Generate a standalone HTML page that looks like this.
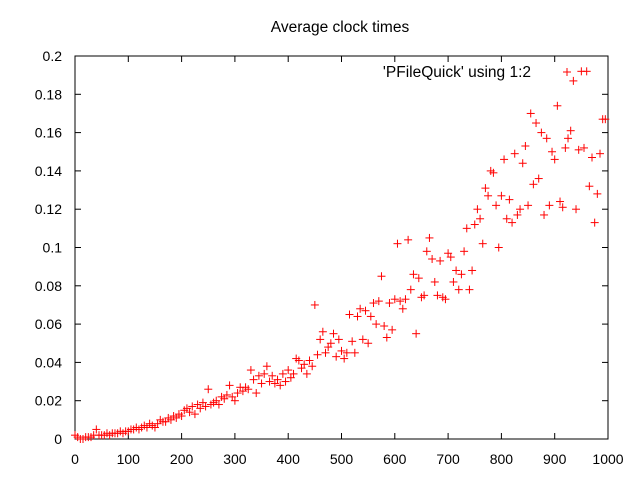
<!DOCTYPE html>
<html><head><meta charset="utf-8"><style>
body{margin:0;background:#fff}
svg{display:block;font-family:"Liberation Sans",sans-serif}
</style></head><body>
<svg id="chart" width="640" height="480" viewBox="0 0 640 480" xmlns="http://www.w3.org/2000/svg">
<rect width="640" height="480" fill="#fff"/>
<text x="340" y="32" font-size="15.5" text-anchor="middle">Average clock times</text>
<g id="axes"></g>
<g id="marks"></g>
<text x="531" y="77" font-size="15.5" text-anchor="end">'PFileQuick' using 1:2</text>
<g stroke="#ff0000" stroke-width="1"><line x1="563" y1="72" x2="571" y2="72"/><line x1="567" y1="68" x2="567" y2="76"/></g>
</svg>
<script>
const xTicks=[0,100,200,300,400,500,600,700,800,900,1000];
const yTicks=[0,0.02,0.04,0.06,0.08,0.1,0.12,0.14,0.16,0.18,0.2];
const yTickLabels=["0","0.02","0.04","0.06","0.08","0.1","0.12","0.14","0.16","0.18","0.2"];
const xStart=0, xStep=5;
const yValues=[
0.002,0.001,0,0,0.001,0.001,0.001,0.002,0.005,0.002,0.002,0.002,0.003,0.002,0.003,0.003,0.003,0.004,0.003,0.004,
0.004,0.005,0.005,0.006,0.005,0.006,0.007,0.006,0.008,0.007,0.006,0.008,0.010,0.009,0.009,0.011,0.010,0.012,0.011,0.013,
0.012,0.015,0.016,0.014,0.017,0.013,0.018,0.016,0.019,0.017,0.026,0.018,0.019,0.020,0.018,0.022,0.021,0.023,0.028,0.022,
0.020,0.024,0.027,0.025,0.027,0.026,0.036,0.031,0.024,0.033,0.029,0.034,0.038,0.030,0.033,0.029,0.031,0.028,0.034,0.030,
0.036,0.032,0.034,0.042,0.041,0.037,0.039,0.034,0.041,0.038,0.070,0.044,0.052,0.056,0.045,0.048,0.050,0.055,0.043,0.052,
0.046,0.042,0.045,0.065,0.051,0.045,0.064,0.068,0.052,0.067,0.050,0.064,0.071,0.060,0.072,0.085,0.059,0.053,0.071,0.057,
0.073,0.102,0.072,0.068,0.073,0.104,0.078,0.086,0.055,0.084,0.074,0.075,0.098,0.105,0.094,0.082,0.075,0.093,0.074,0.073,
0.097,0.095,0.082,0.088,0.078,0.086,0.098,0.110,0.078,0.088,0.112,0.120,0.115,0.102,0.131,0.127,0.140,0.139,0.122,0.100,
0.127,0.146,0.115,0.125,0.113,0.149,0.117,0.120,0.144,0.153,0.122,0.170,0.133,0.165,0.136,0.160,0.117,0.157,0.122,0.150,
0.146,0.174,0.124,0.121,0.152,0.157,0.161,0.187,0.120,0.151,0.192,0.152,0.192,0.132,0.147,0.113,0.128,0.149,0.167,0.167];
const L=75,R=608,T=56,B=439,NS="http://www.w3.org/2000/svg";
const xs=v=>L+(v-0)/(1000-0)*(R-L);
const ys=v=>B-(v-0)/(0.2-0)*(B-T);
function mk(tag,attrs,parent){const e=document.createElementNS(NS,tag);for(const k in attrs)e.setAttribute(k,attrs[k]);parent.appendChild(e);return e;}
const axes=document.getElementById('axes'),marks=document.getElementById('marks');
const frame=mk('rect',{x:L,y:T,width:R-L,height:B-T,fill:'none',stroke:'#000','stroke-width':1},axes);


xTicks.forEach(v=>{const x=xs(v);
 mk('line',{x1:x,y1:B,x2:x,y2:B-6,stroke:'#000'},axes);
 mk('line',{x1:x,y1:T,x2:x,y2:T+6,stroke:'#000'},axes);
 const t=mk('text',{x:x,y:B+25,'font-size':14,'text-anchor':'middle'},axes);t.textContent=String(v);
 
 
});
yTicks.forEach((v,i)=>{const y=ys(v);
 mk('line',{x1:L,y1:y,x2:L+6,y2:y,stroke:'#000'},axes);
 mk('line',{x1:R,y1:y,x2:R-6,y2:y,stroke:'#000'},axes);
 const t=mk('text',{x:L-13,y:y+5,'font-size':14,'text-anchor':'end'},axes);t.textContent=yTickLabels[i];
 
 
});
yValues.forEach((v,i)=>{const x=xs(xStart+i*xStep),y=ys(v);
 const g=mk('g',{stroke:'#ff0000','stroke-width':1},marks);
 
 
 mk('line',{x1:x-4,y1:y,x2:x+4,y2:y},g);
 mk('line',{x1:x,y1:y-4,x2:x,y2:y+4},g);
});
</script>
</body></html>
